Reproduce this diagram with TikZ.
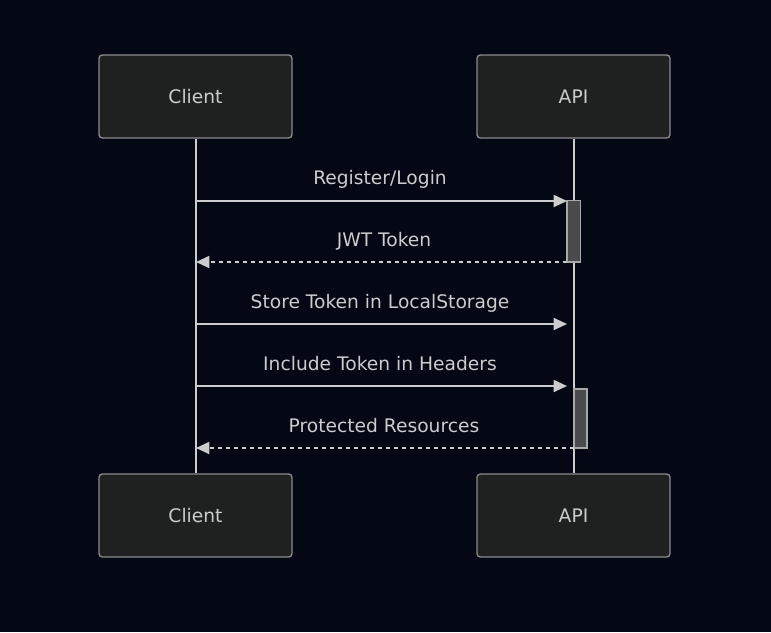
\documentclass[tikz,border=0pt]{standalone}
\usepackage{fontspec}
\setmainfont{DejaVu Sans}
\usetikzlibrary{arrows.meta}
\definecolor{bg}{HTML}{040714}
\definecolor{boxfill}{HTML}{1F2020}
\definecolor{boxline}{HTML}{8A8A8A}
\definecolor{txt}{HTML}{CCCCCC}
\definecolor{actfill}{HTML}{4B4B4B}
\definecolor{actline}{HTML}{A8A8A8}
\begin{document}
\begin{tikzpicture}[x=0.75pt,y=-0.75pt,
  actor/.style={draw=boxline,fill=boxfill,line width=1pt,rounded corners=2.5pt,minimum width=193*0.75pt,minimum height=83*0.75pt,inner sep=0pt,text=txt,font=\fontsize{14}{16}\selectfont},
  life/.style={draw=txt,line width=1.5pt},
  msg/.style={draw=txt,line width=1.4pt,-{Triangle[length=10pt,width=9pt]}},
  ret/.style={msg,dash pattern=on 3pt off 3pt},
  lbl/.style={text=txt,font=\fontsize{14}{16}\selectfont,inner sep=0pt},
  act/.style={draw=actline,fill=actfill,line width=1pt}]
\fill[bg] (0,0) rectangle (771,632);
\useasboundingbox (0,0) rectangle (771,632);
\node[actor] (ct) at (195.5,96.5) {Client};
\node[actor] (at) at (573.5,96.5) {API};
\node[actor] (cb) at (195.5,515.5) {Client};
\node[actor] (ab) at (573.5,515.5) {API};
\draw[life] (ct.south) -- (cb.north);
\draw[life] (at.south) -- (ab.north);
\draw[act] (567,200.5) rectangle (580.5,262);
\draw[act] (574,389) rectangle (587,448);
\coordinate (c1) at (196,201); \coordinate (p1) at (567,201);
\coordinate (c2) at (196,262); \coordinate (p2) at (567,262);
\coordinate (c3) at (196,324); \coordinate (p3) at (567,324);
\coordinate (c4) at (196,386); \coordinate (p4) at (567,386);
\coordinate (c5) at (196,448); \coordinate (p5) at (574,448);
\draw[msg] (c1) -- (p1);
\draw[ret] (p2) -- (c2);
\draw[msg] (c3) -- (p3);
\draw[msg] (c4) -- (p4);
\draw[ret] (p5) -- (c5);
\node[lbl] (l1) at (380,179) {Register/Login};
\node[lbl] (l2) at (384,241) {JWT Token};
\node[lbl] (l3) at (380,303) {Store Token in LocalStorage};
\node[lbl] (l4) at (380,364) {Include Token in Headers};
\node[lbl] (l5) at (384,426) {Protected Resources};
\end{tikzpicture}
\end{document}
